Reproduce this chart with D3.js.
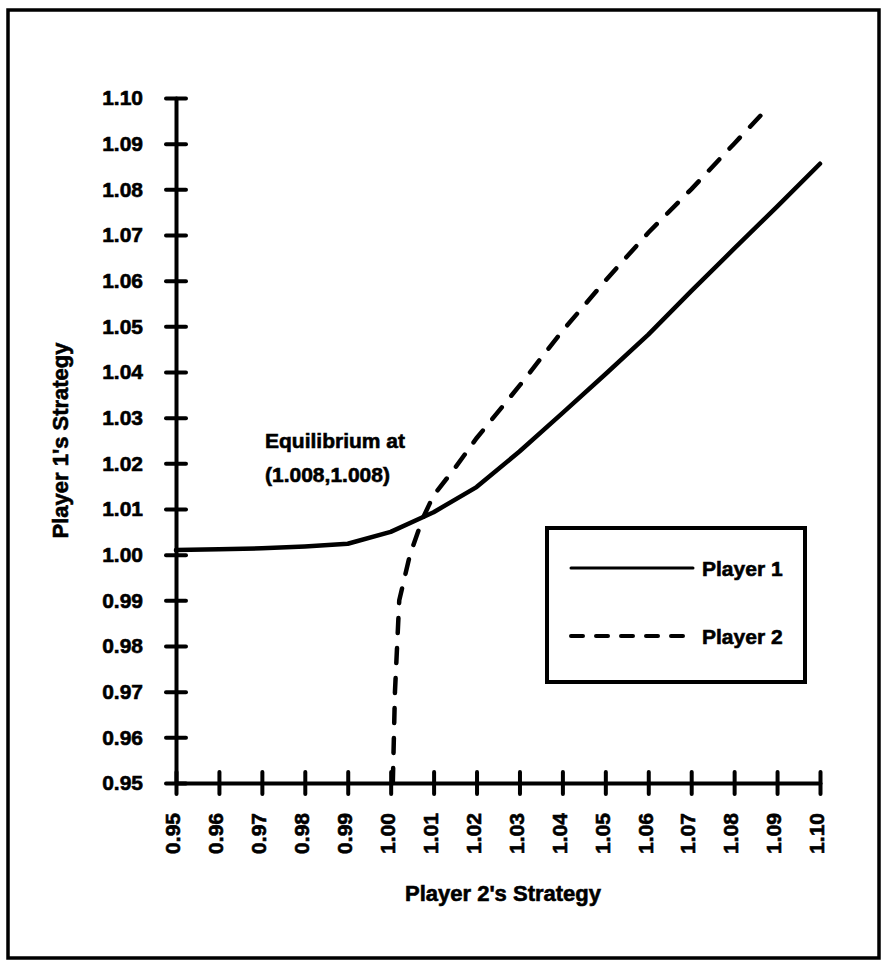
<!DOCTYPE html>
<html>
<head>
<meta charset="utf-8">
<script src="https://cdn.jsdelivr.net/npm/d3@7"></script>
<style>
	body { margin: 0; background: #fff; }
	svg { display: block; }
	.c-reaction__label { font-family: "Liberation Sans", Arial, sans-serif; font-weight: bold; fill: #000; stroke: #000; stroke-width: 0.6px; }
</style>
</head>
<body>
<div id="chart"></div>
<script>
//Tick values for both axes
var xTicks = [0.95, 0.96, 0.97, 0.98, 0.99, 1.00, 1.01, 1.02, 1.03, 1.04, 1.05, 1.06, 1.07, 1.08, 1.09, 1.10];
var yTicks = [0.95, 0.96, 0.97, 0.98, 0.99, 1.00, 1.01, 1.02, 1.03, 1.04, 1.05, 1.06, 1.07, 1.08, 1.09, 1.10];

//Player 1 reaction (solid)
var p1X = [0.95, 0.96, 0.97, 0.98, 0.99, 1.00, 1.01, 1.02, 1.03, 1.04, 1.05, 1.06, 1.07, 1.08, 1.09, 1.10];
var p1Y = [1.001, 1.0012, 1.0014, 1.0018, 1.0024, 1.005, 1.0093, 1.0148, 1.0226, 1.031, 1.0395, 1.0482, 1.0577, 1.067, 1.0762, 1.0856];

//Player 2 reaction (dashed)
var p2X = [1.0005, 1.001, 1.002, 1.0045, 1.0075, 1.010, 1.015, 1.020, 1.03, 1.04, 1.05, 1.06, 1.07, 1.08, 1.088];
var p2Y = [0.95, 0.97, 0.99, 1.000, 1.008, 1.013, 1.019, 1.0255, 1.037, 1.049, 1.060, 1.0705, 1.080, 1.090, 1.098];

var seriesNames = ["Player 1", "Player 2"];
var note = ["Equilibrium at", "(1.008,1.008)"];

var width = 886, height = 965;
var classPrefix = "c-reaction";
var fontSize = 21;

var svg = d3.select("#chart")
	.append("svg")
	.attr("width", width)
	.attr("height", height);

//Outer frame
svg.append("rect")
	.attr("x", 8)
	.attr("y", 10)
	.attr("width", 871)
	.attr("height", 948)
	.attr("fill", "none")
	.attr("stroke", "#000")
	.attr("stroke-width", 3.5);

var margin = {top: 98, right: 66, bottom: 180, left: 176};

var xScale = d3.scaleLinear()
	.domain([0.95, 1.10])
	.range([margin.left, width - margin.right]);
var yScale = d3.scaleLinear()
	.domain([0.95, 1.10])
	.range([height - margin.bottom - 2, margin.top]);

var y0 = yScale(0.95);

//Axes
var yAxis = d3.axisLeft(yScale)
	.tickValues(yTicks)
	.tickSize(0)
	.tickPadding(33)
	.tickFormat(d3.format(".2f"));

var xAxis = d3.axisBottom(xScale)
	.tickValues(xTicks)
	.tickSize(0)
	.tickFormat(d3.format(".2f"));

var gy = svg.append("g")
	.attr("transform", "translate(" + margin.left + ",0)")
	.call(yAxis);

var gx = svg.append("g")
	.attr("transform", "translate(0," + y0 + ")")
	.call(xAxis);

[gx, gy].forEach(function(g){
	g.select(".domain")
		.attr("stroke", "#000")
		.attr("stroke-width", 4)
		.attr("stroke-linecap", "round");
	g.selectAll(".tick line")
		.attr("stroke", "#000")
		.attr("stroke-width", 4)
		.attr("stroke-linecap", "round");
	g.selectAll("text")
		.attr("class", classPrefix + "__label")
		.attr("font-size", fontSize)
		.attr("font-family", null);
});

//Ticks cross the axis line
gy.selectAll(".tick line").attr("x1", -10).attr("x2", 10);
gx.selectAll(".tick line").attr("y1", -11).attr("y2", 11);

gx.selectAll(".tick text")
	.attr("transform", "rotate(-90)")
	.attr("text-anchor", "end")
	.attr("x", -30)
	.attr("y", 0)
	.attr("dy", "0.18em");

//Reaction curves
var line = d3.line()
	.x(function(d){ return xScale(d[0]); })
	.y(function(d){ return yScale(d[1]); });

var p1Points = p1X.map(function(x, i){ return [x, p1Y[i]]; });
var p2Points = p2X.map(function(x, i){ return [x, p2Y[i]]; });

svg.append("path")
	.datum(p1Points)
	.attr("d", line)
	.attr("fill", "none")
	.attr("stroke", "#000")
	.attr("stroke-width", 4.5)
	.attr("stroke-linejoin", "round")
	.attr("stroke-linecap", "round");

svg.append("path")
	.datum(p2Points)
	.attr("d", line)
	.attr("fill", "none")
	.attr("stroke", "#000")
	.attr("stroke-width", 4.5)
	.attr("stroke-dasharray", "15,15")
	.attr("stroke-linecap", "round");

//Equilibrium note
svg.append("text")
	.attr("class", classPrefix + "__label")
	.attr("font-size", fontSize)
	.attr("x", 265)
	.attr("y", 448)
	.text(note[0]);

svg.append("text")
	.attr("class", classPrefix + "__label")
	.attr("font-size", fontSize)
	.attr("x", 265)
	.attr("y", 482)
	.text(note[1]);

//Axis titles
svg.append("text")
	.attr("class", classPrefix + "__label")
	.attr("font-size", fontSize + 1)
	.attr("text-anchor", "middle")
	.attr("x", 503)
	.attr("y", 901)
	.text("Player 2's Strategy");

svg.append("text")
	.attr("class", classPrefix + "__label")
	.attr("font-size", fontSize + 1)
	.attr("text-anchor", "middle")
	.attr("transform", "translate(68," + ((yScale(0.95) + yScale(1.10)) / 2) + ")rotate(-90)")
	.text("Player 1's Strategy");

//Legend
var legend = svg.append("g").attr("transform", "translate(547,528)");

legend.append("rect")
	.attr("width", 258)
	.attr("height", 154)
	.attr("fill", "#fff")
	.attr("stroke", "#000")
	.attr("stroke-width", 4);

legend.selectAll("line")
	.data(seriesNames)
	.enter().append("line")
	.attr("x1", 24)
	.attr("x2", 146)
	.attr("y1", function(d, i){ return 40 + i * 68; })
	.attr("y2", function(d, i){ return 40 + i * 68; })
	.attr("stroke", "#000")
	.attr("stroke-width", function(d, i){ return i ? 4 : 3; })
	.attr("stroke-dasharray", function(d, i){ return i ? "12,13" : null; })
	.attr("stroke-linecap", "round");

legend.selectAll("text")
	.data(seriesNames)
	.enter().append("text")
	.attr("class", classPrefix + "__label")
	.attr("font-size", fontSize)
	.attr("x", 155)
	.attr("y", function(d, i){ return 48 + i * 68; })
	.text(function(d){ return d; });
</script>
</body>
</html>
